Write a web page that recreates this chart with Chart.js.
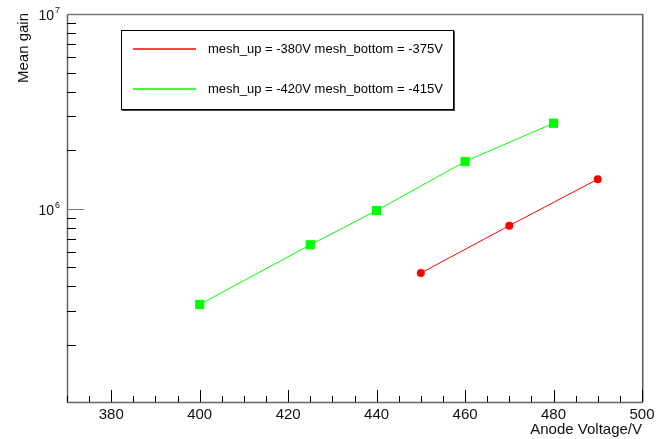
<!DOCTYPE html>
<html>
<head>
<meta charset="utf-8">
<script src="https://cdn.jsdelivr.net/npm/chart.js@4/dist/chart.umd.min.js"></script>
<style>
html,body{margin:0;padding:0;background:#fff;}
#wrap{width:660px;height:439px;}
</style>
</head>
<body>
<div id="wrap"><canvas id="c" width="660" height="439"></canvas></div>
<script>
// ---- data ----
const voltagesRed = [450, 470, 490];
const gainRed = [4.68e5, 8.2e5, 1.42e6];
const voltagesGreen = [400, 425, 440, 460, 480];
const gainGreen = [3.23e5, 6.54e5, 9.8e5, 1.75e6, 2.75e6];
const seriesLabels = ["mesh_up = -380V mesh_bottom = -375V", "mesh_up = -420V mesh_bottom = -415V"];
const seriesColors = ["#ff0000", "#00ff00"];
const xTickLabels = [380, 400, 420, 440, 460, 480, 500];
const yTickExponents = [6, 7];
const xTitle = "Anode Voltage/V";
const yTitle = "Mean gain";

const FONT = '"Liberation Sans", Arial, Helvetica, sans-serif';

const rootPlugin = {
  id: 'rootStyle',
  afterDraw(chart) {
    const ctx = chart.ctx;
    const xs = chart.scales.x, ys = chart.scales.y;
    const a = chart.chartArea;
    ctx.save();
    // frame
    ctx.strokeStyle = '#777';
    ctx.lineWidth = 1.5;
    ctx.beginPath();
    ctx.moveTo(a.left + 0.5, a.top + 0.5);
    ctx.lineTo(a.right + 0.5, a.top + 0.5);
    ctx.stroke();
    ctx.lineWidth = 1;
    ctx.strokeStyle = '#555';
    ctx.beginPath();
    ctx.moveTo(a.right + 0.5, a.top);
    ctx.lineTo(a.right + 0.5, a.bottom);
    ctx.stroke();
    ctx.strokeStyle = '#aaa';
    ctx.beginPath();
    ctx.moveTo(a.right + 1.5, a.top);
    ctx.lineTo(a.right + 1.5, a.bottom);
    ctx.stroke();
    // axes
    ctx.strokeStyle = '#666';
    ctx.lineWidth = 1.5;
    ctx.beginPath();
    ctx.moveTo(a.left + 0.5, a.top);
    ctx.lineTo(a.left + 0.5, a.bottom + 0.5);
    ctx.lineTo(a.right + 1, a.bottom + 0.5);
    ctx.stroke();

    // x ticks (inward)
    ctx.strokeStyle = '#000';
    ctx.lineWidth = 1;
    for (let v = xs.min; v <= xs.max + 1e-9; v += 5) {
      const px = Math.round(xs.getPixelForValue(v)) + 0.5;
      const major = (v % 20 === 0);
      ctx.beginPath();
      ctx.moveTo(px, a.bottom);
      ctx.lineTo(px, a.bottom - (major ? 12 : 6));
      ctx.stroke();
    }
    // y ticks (inward)
    for (let e = 5; e <= 7; e++) {
      for (let m = 1; m <= 9; m++) {
        const v = m * Math.pow(10, e);
        if (v < ys.min || v > ys.max) continue;
        const py = Math.round(ys.getPixelForValue(v)) + 0.5;
        const major = (m === 1);
        ctx.strokeStyle = major ? '#777' : '#000';
        ctx.beginPath();
        ctx.moveTo(a.left, py);
        ctx.lineTo(a.left + (major ? 17 : 9), py);
        ctx.stroke();
      }
    }

    // x tick labels
    ctx.fillStyle = '#111';
    ctx.font = '15px ' + FONT;
    ctx.textAlign = 'center';
    ctx.textBaseline = 'alphabetic';
    xTickLabels.forEach(v => {
      ctx.fillText(String(v), xs.getPixelForValue(v), 419);
    });
    // y tick labels (10^n)
    yTickExponents.forEach(e => {
      const py = ys.getPixelForValue(Math.pow(10, e));
      ctx.font = '14px ' + FONT;
      ctx.textAlign = 'right';
      const baseRight = 54;
      ctx.fillText('10', baseRight, py + 6);
      ctx.font = '9px ' + FONT;
      ctx.textAlign = 'left';
      ctx.fillText(String(e), baseRight + 1, py - 1);
    });
    // axis titles
    ctx.font = '15px ' + FONT;
    ctx.textAlign = 'right';
    ctx.fillText(xTitle, a.right, 434);
    ctx.save();
    ctx.translate(28, 13);
    ctx.rotate(-Math.PI / 2);
    ctx.textAlign = 'right';
    ctx.fillText(yTitle, 0, 0);
    ctx.restore();

    // legend box
    const lx = 121, ly = 30, lw = 332, lh = 79;
    ctx.fillStyle = '#fff';
    ctx.fillRect(lx, ly, lw, lh);
    ctx.strokeStyle = '#000';
    ctx.lineWidth = 1;
    ctx.strokeRect(lx + 0.5, ly + 0.5, lw, lh);
    ctx.fillStyle = '#444';
    ctx.fillRect(lx + 1, ly + lh + 1, lw + 1, 1);
    ctx.fillRect(lx + lw + 1, ly + 1, 1, lh + 1);
    const rowsY = [49, 89];
    ctx.font = '13px ' + FONT;
    ctx.textAlign = 'left';
    ctx.textBaseline = 'middle';
    seriesLabels.forEach((t, i) => {
      ctx.strokeStyle = seriesColors[i];
      ctx.lineWidth = 1.6;
      ctx.beginPath();
      ctx.moveTo(133, rowsY[i]);
      ctx.lineTo(196, rowsY[i]);
      ctx.stroke();
      ctx.fillStyle = '#000';
      ctx.fillText(t, 208, rowsY[i]);
    });
    ctx.restore();
  }
};

new Chart(document.getElementById('c'), {
  type: 'line',
  data: {
    datasets: [
      {
        label: seriesLabels[0],
        data: voltagesRed.map((v, i) => ({x: v, y: gainRed[i]})),
        borderColor: seriesColors[0],
        backgroundColor: seriesColors[0],
        borderWidth: 1,
        pointStyle: 'circle',
        pointRadius: 4,
        pointBorderWidth: 0,
        tension: 0
      },
      {
        label: seriesLabels[1],
        data: voltagesGreen.map((v, i) => ({x: v, y: gainGreen[i]})),
        borderColor: seriesColors[1],
        backgroundColor: seriesColors[1],
        borderWidth: 1,
        pointStyle: 'rect',
        pointRadius: 6.5,
        pointBorderWidth: 0,
        tension: 0
      }
    ]
  },
  options: {
    responsive: false,
    animation: false,
    layout: {padding: {top: 14, right: 18, left: 0, bottom: 0}},
    plugins: {legend: {display: false}, tooltip: {enabled: false}},
    scales: {
      x: {
        type: 'linear', min: 370, max: 500,
        ticks: {display: false}, grid: {display: false}, border: {display: false},
        afterFit(s) { s.height = 37; }
      },
      y: {
        type: 'logarithmic', min: 1.02e5, max: 1e7,
        ticks: {display: false}, grid: {display: false}, border: {display: false},
        afterFit(s) { s.width = 67; }
      }
    }
  },
  plugins: [rootPlugin]
});
</script>
</body>
</html>
